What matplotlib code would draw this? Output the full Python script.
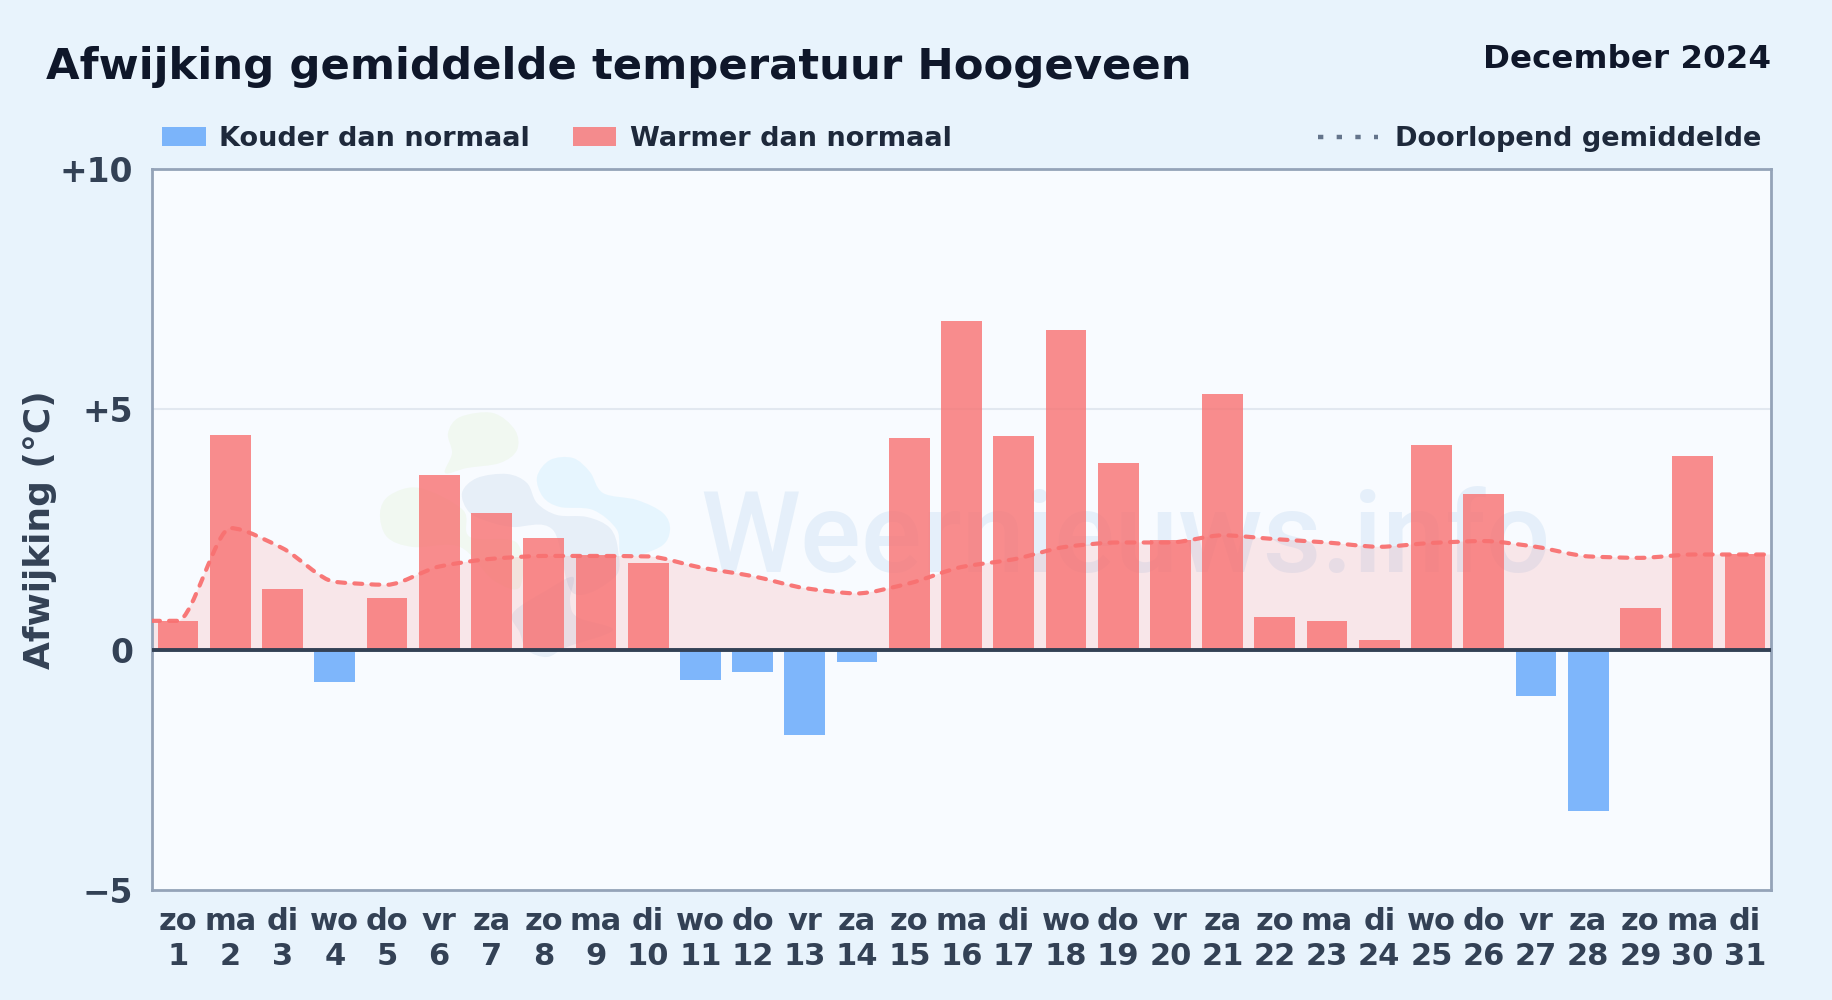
import numpy as np
import matplotlib
matplotlib.use("Agg")
import matplotlib.pyplot as plt
from matplotlib.lines import Line2D
from matplotlib.patches import PathPatch, Rectangle
from matplotlib.path import Path

W, H = 1832, 1000

weekdays = ["zo", "ma", "di", "wo", "do", "vr", "za"] * 4 + ["zo", "ma", "di"]
days = list(range(1, 32))
afwijking = [0.6, 4.47, 1.27, -0.68, 1.08, 3.63, 2.85, 2.33, 1.97, 1.8, -0.63,
             -0.47, -1.78, -0.25, 4.4, 6.83, 4.45, 6.65, 3.88, 2.28, 5.32, 0.68,
             0.6, 0.2, 4.25, 3.23, -0.97, -3.35, 0.87, 4.03, 2.0]
gemiddelde = [0.6, 2.53, 2.11, 1.41, 1.35, 1.73, 1.89, 1.95, 1.95, 1.94, 1.71,
              1.53, 1.28, 1.17, 1.38, 1.72, 1.88, 2.14, 2.23, 2.23, 2.38, 2.30,
              2.23, 2.14, 2.22, 2.26, 2.14, 1.94, 1.91, 1.98, 1.98]
y_ticks = [-5, 0, 5, 10]
y_labels = ["\u22125", "0", "+5", "+10"]

BG = "#e8f3fc"
RED = "#f87171"
BLUE = "#60a5fa"


def monotone_path(x, y, handle=0.27):
    """Bezier door de punten zonder overshoot bij pieken"""
    n = len(x)
    sec = [(y[i + 1] - y[i]) / (x[i + 1] - x[i]) for i in range(n - 1)]
    m = [0.0] * n
    for i in range(1, n - 1):
        if sec[i - 1] * sec[i] > 0:
            m[i] = 2 * sec[i - 1] * sec[i] / (sec[i - 1] + sec[i])
    verts = [(x[0], y[0])]
    codes = [Path.MOVETO]
    for i in range(n - 1):
        dx = x[i + 1] - x[i]
        verts += [(x[i] + handle * dx, y[i] + m[i] * handle * dx),
                  (x[i + 1] - handle * dx, y[i + 1] - m[i + 1] * handle * dx),
                  (x[i + 1], y[i + 1])]
        codes += [Path.CURVE4] * 3
    return verts, codes


def blob(fig, pts, color, alpha):
    """Vlek van het watermerk-logo, gesloten catmull-rom, punten in figuurpixels"""
    pts = [(px / W, 1 - py / H) for px, py in pts]
    n = len(pts)
    verts = [pts[0]]
    codes = [Path.MOVETO]
    for i in range(n):
        p0, p1, p2, p3 = pts[i - 1], pts[i], pts[(i + 1) % n], pts[(i + 2) % n]
        verts += [(p1[0] + (p2[0] - p0[0]) / 6, p1[1] + (p2[1] - p0[1]) / 6),
                  (p2[0] - (p3[0] - p1[0]) / 6, p2[1] - (p3[1] - p1[1]) / 6),
                  p2]
        codes += [Path.CURVE4] * 3
    return PathPatch(Path(verts, codes), transform=fig.transFigure, fc=color, alpha=alpha,
                     ec="none", zorder=1.5)


fig = plt.figure(figsize=(W / 100, H / 100), dpi=100, facecolor=BG)
ax = fig.add_axes([152 / W, 1 - 890 / H, (1771 - 152) / W, (890 - 169) / H])
ax.set_facecolor("#f8fbff")

colors = [RED if v >= 0 else BLUE for v in afwijking]
ax.bar(days, afwijking, width=0.78, color=colors, alpha=0.8, zorder=3)

# watermerk
logo = [
    ([(448, 433), (460, 417), (493, 413), (515, 430), (517, 450), (500, 463), (467, 468),
      (445, 473), (452, 453)], "#84cc16", 0.06),
    ([(380, 513), (390, 495), (420, 488), (463, 510), (470, 537), (517, 543), (520, 587),
      (493, 580), (460, 547), (413, 547), (387, 537)], "#84cc16", 0.06),
    ([(462, 493), (477, 478), (507, 474), (527, 483), (537, 503), (557, 515), (587, 517),
      (610, 528), (618, 550), (615, 577), (573, 593), (553, 530), (513, 527), (493, 523),
      (470, 513)], "#2563a8", 0.08),
    ([(537, 477), (550, 460), (573, 458), (590, 472), (603, 493), (637, 500), (663, 513),
      (670, 530), (660, 547), (623, 557), (617, 530), (593, 510), (560, 507), (543, 497)],
     "#38bdf8", 0.09),
    ([(513, 613), (547, 590), (573, 577), (570, 600), (577, 617), (613, 630), (567, 647),
      (547, 657), (527, 650), (520, 633)], "#2563a8", 0.08),
]
for pts, col, alp in logo:
    ax.add_patch(blob(fig, pts, col, alp))
ax.text(700 / W, 1 - 572 / H, "Weernieuws.info", transform=fig.transFigure, family="Roboto",
        fontweight=500, fontsize=81.8, color="#2f7fc8", alpha=0.09, zorder=1.5, va="baseline", ha="left")

# doorlopend gemiddelde loopt door tot de randen van de as
x_line = [0.5] + days + [31.5]
y_line = [gemiddelde[0]] + gemiddelde + [gemiddelde[-1]]
verts, codes = monotone_path(x_line, y_line)
fill_verts = verts + [(31.5, 0), (0.5, 0), verts[0]]
fill_codes = codes + [Path.LINETO, Path.LINETO, Path.CLOSEPOLY]
ax.add_patch(PathPatch(Path(fill_verts, fill_codes), fc=RED, alpha=0.15, ec="none", zorder=2))
ax.add_patch(PathPatch(Path(verts, codes), fc="none", ec=RED, lw=3.0, ls=(0, (1.9, 2.2)),
                       capstyle="round", alpha=0.95, zorder=4))

ax.axhline(0, color="#334155", lw=2.8, zorder=5)
ax.axhline(5, color="#e2e8f0", lw=1.5, zorder=1)

ax.set_xlim(0.5, 31.5)
ax.set_ylim(-5, 10)
ax.set_yticks(y_ticks)
ax.set_yticklabels(y_labels, fontsize=23.7, fontweight="bold", color="#334155")
ax.set_xticks(days)
ax.set_xticklabels([f"{d}\n{n}" for d, n in zip(weekdays, days)], fontsize=22,
                   fontweight="bold", color="#334155", linespacing=1.28)
ax.tick_params(length=0, axis="y", pad=13.5)
ax.tick_params(length=0, axis="x", pad=12)
for s in ax.spines.values():
    s.set_color("#94a3b8")
    s.set_linewidth(2)

fig.text(40 / W, 1 - 530 / H, "Afwijking (\u00b0C)", rotation=90, va="center", ha="center",
         fontsize=25.9, fontweight="bold", color="#334155")
fig.text(46 / W, 1 - 67 / H, "Afwijking gemiddelde temperatuur Hoogeveen", va="center",
         fontsize=31.2, fontweight="bold", color="#0f172a")
fig.text(1771 / W, 1 - 60 / H, "December 2024", va="center", ha="right",
         fontsize=23.4, fontweight="bold", color="#0f172a")

# legenda
fig.add_artist(Rectangle((162 / W, 1 - 146 / H), 44 / W, 19 / H, transform=fig.transFigure,
                         fc=BLUE, alpha=0.8, ec="none"))
fig.add_artist(Rectangle((573 / W, 1 - 146 / H), 43 / W, 19 / H, transform=fig.transFigure,
                         fc=RED, alpha=0.8, ec="none"))
fig.add_artist(Line2D([1318 / W, 1378 / W], [1 - 137 / H] * 2, transform=fig.transFigure,
                      color="#64748b", lw=3.2, ls=(0, (1.2, 3.0))))
for px, txt in [(219, "Kouder dan normaal"), (630, "Warmer dan normaal"), (1395, "Doorlopend gemiddelde")]:
    fig.text(px / W, 1 - 139 / H, txt, va="center", fontsize=19.5, fontweight="bold", color="#1e293b")

fig.savefig("out.png", dpi=100, facecolor=BG)
